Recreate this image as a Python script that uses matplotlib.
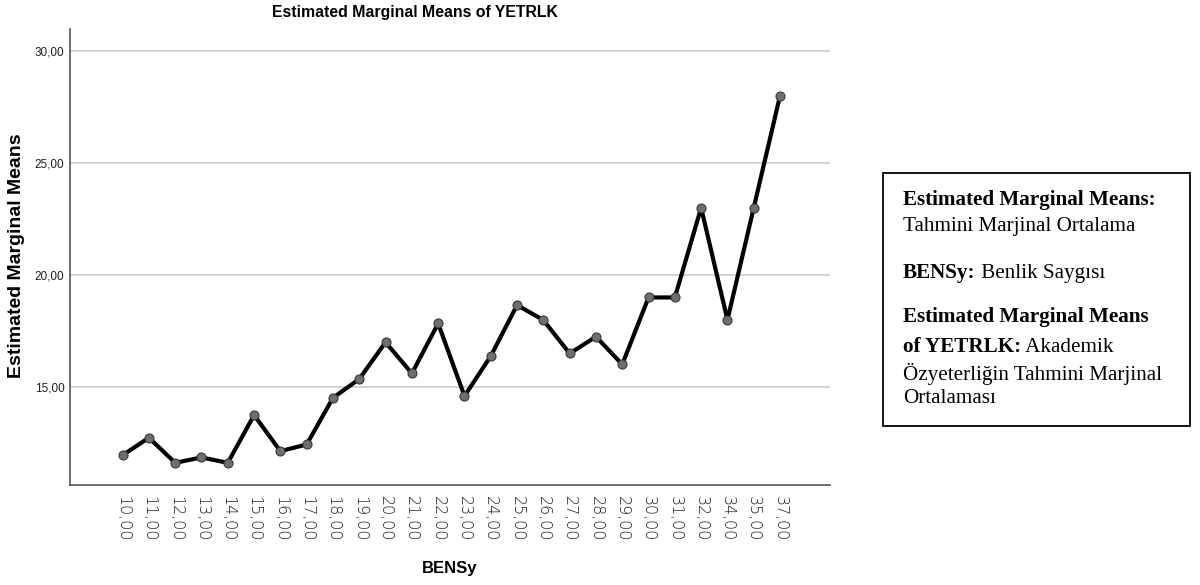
import numpy as np
import matplotlib
matplotlib.use("Agg")
import matplotlib.pyplot as plt
from matplotlib.patches import Rectangle

# BENSy düzeyleri ve YETRLK tahmini marjinal ortalamaları
bensy_levels = ["10,00", "11,00", "12,00", "13,00", "14,00", "15,00", "16,00",
                "17,00", "18,00", "19,00", "20,00", "21,00", "22,00", "23,00",
                "24,00", "25,00", "26,00", "27,00", "28,00", "29,00", "30,00",
                "31,00", "32,00", "34,00", "35,00", "37,00"]
yetrlk_means = [11.96, 12.74, 11.62, 11.86, 11.62, 13.75, 12.14, 12.44, 14.52,
                15.36, 17.0, 15.61, 17.84, 14.6, 16.38, 18.66, 17.99, 16.5,
                17.25, 16.01, 19.0, 19.0, 23.0, 18.0, 23.0, 28.0]
y_ticks = [15, 20, 25, 30]
y_tick_labels = ["15,00", "20,00", "25,00", "30,00"]

W, H = 1200, 585
fig = plt.figure(figsize=(W / 100, H / 100), dpi=100)
ax = fig.add_axes([70 / W, 1 - 485 / H, (830 - 70) / W, (485 - 29) / H])

x = np.arange(len(bensy_levels))
ax.plot(x, yetrlk_means, color="black", lw=3, marker="o", ms=6.5,
        mfc="#6e6e6e", mec="#3a3a3a", mew=0.8, zorder=3)

ax.set_xlim(-2, len(bensy_levels) + 0.9)
ax.set_ylim(10.63, 30.98)
ax.set_xticks(x)
ax.set_xticklabels(bensy_levels, rotation=-90, fontsize=11.5, color="#222222",
                   family="DejaVu Sans", fontweight="light")
ax.set_yticks(y_ticks)
ax.set_yticklabels(y_tick_labels, fontsize=8.5, color="#222222", family="Liberation Sans")
ax.tick_params(length=0, pad=4)
ax.tick_params(axis="x", pad=8)
ax.grid(axis="y", color="#d4d4d4", lw=1.5)
ax.set_axisbelow(True)
for s in ["top", "right"]:
    ax.spines[s].set_visible(False)
for s in ["left", "bottom"]:
    ax.spines[s].set_color("#555555")
    ax.spines[s].set_linewidth(1.2)

fig.text(415 / W, 1 - 12 / H, "Estimated Marginal Means of YETRLK", ha="center", va="center",
         fontsize=11.4, family="Liberation Sans", fontweight="bold")
fig.text(17 / W, 1 - 256 / H, "Estimated Marginal Means", rotation=90, ha="center", va="center",
         fontsize=14, family="Liberation Sans", fontweight="bold")
fig.text(450 / W, 1 - 568 / H, "BENSy", ha="center", va="center",
         fontsize=12, family="Liberation Sans", fontweight="bold")

# açıklama kutusu
fig.patches.append(Rectangle((883 / W, 1 - 426 / H), (1190 - 883) / W, (426 - 173) / H,
                             transform=fig.transFigure, fill=False, ec="black", lw=1.3))

lines = [
    ("Estimated Marginal Means:", "", 205),
    ("", "Tahmini Marjinal Ortalama", 231),
    ("BENSy:", " Benlik Saygısı", 278),
    ("Estimated Marginal Means", "", 322),
    ("of YETRLK:", " Akademik", 352),
    ("", "Özyeterliğin Tahmini Marjinal", 380),
    ("", "Ortalaması", 403),
]
renderer = fig.canvas.get_renderer()
x0 = 903
for bold, regular, yb in lines:
    xp = x0
    if bold:
        t = fig.text(xp / W, 1 - yb / H, bold, fontsize=15.2, family="Liberation Serif",
                     fontweight="bold", va="baseline", ha="left")
        xp += t.get_window_extent(renderer).width
    if regular:
        fig.text(xp / W, 1 - yb / H, regular, fontsize=15.2, family="Liberation Serif",
                 va="baseline", ha="left")

fig.savefig("out.png", dpi=100)
